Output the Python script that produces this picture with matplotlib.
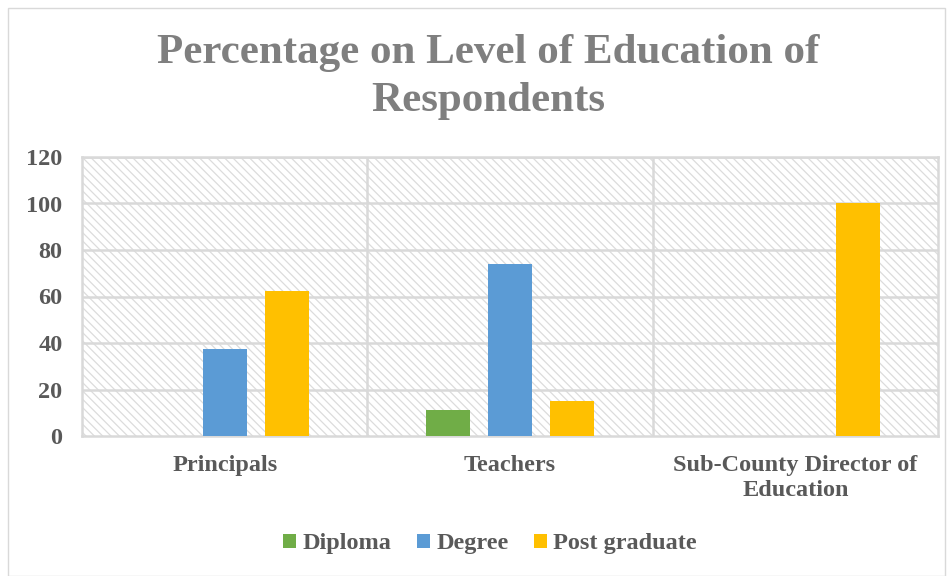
import numpy as np
import matplotlib.pyplot as plt
from matplotlib.patches import Rectangle

categories = ["Principals", "Teachers", "Sub-County Director of\nEducation"]
series = ["Diploma", "Degree", "Post graduate"]
diploma = [0, 11, 0]
degree = [37.5, 74, 0]
post_graduate = [62.5, 15, 100]
colors = ["#70ad47", "#5b9bd5", "#ffc000"]

plt.rcParams['font.family'] = ['Liberation Serif', 'DejaVu Serif']
plt.rcParams['font.weight'] = 'bold'
plt.rcParams['hatch.color'] = '#dcdcdc'
plt.rcParams['hatch.linewidth'] = 0.9

fig = plt.figure(figsize=(9.53, 5.76), dpi=100)
ax = fig.add_axes([82 / 953, 1 - 436 / 576, (938 - 82) / 953, (436 - 157) / 576])

# hatched plot background
ax.add_patch(Rectangle((0, 0), 1, 1, transform=ax.transAxes, facecolor='white',
                       edgecolor='#dcdcdc', linewidth=0, hatch='\\\\\\\\', zorder=0))

x = np.arange(len(categories))
w = 0.154
off = 0.218
for i, (vals, name) in enumerate(zip([diploma, degree, post_graduate], series)):
    ax.bar(x + (i - 1) * off, vals, width=w, color=colors[i], label=name, zorder=3)

ax.set_xlim(-0.5, 2.5)
ax.set_ylim(0, 120)
ax.set_yticks(range(0, 121, 20))
for yv in range(20, 121, 20):
    ax.axhline(yv, color='#d9d9d9', lw=1.8, zorder=1)
for xv in [0.5, 1.5]:
    ax.axvline(xv, color='#d9d9d9', lw=1.8, zorder=1)
for s in ax.spines.values():
    s.set_color('#d9d9d9')
    s.set_linewidth(1.8)

ax.set_xticks(x)
ax.set_xticklabels(categories, fontsize=17.5, color='#595959', fontweight='bold',
                   linespacing=1.25)
ax.tick_params(axis='x', length=0, pad=14)
ax.tick_params(axis='y', length=0, labelsize=17.5, labelcolor='#595959', pad=14)

fig.text(488 / 953, 1 - 77 / 576, "Percentage on Level of Education of\nRespondents",
         ha='center', va='center', fontsize=31, color='#7f7f7f', fontweight='bold',
         linespacing=1.35)

fig.legend(loc='center', bbox_to_anchor=(490 / 953, 1 - 544 / 576), ncol=3,
           frameon=False, fontsize=17.5, handlelength=0.55, handleheight=0.55,
           handletextpad=0.25, columnspacing=1.05, labelcolor='#595959')

fig.add_artist(Rectangle((8 / 953, 0), 1 - 16 / 953, 1 - 8 / 576, transform=fig.transFigure,
                         fill=False, edgecolor='#d9d9d9', lw=1))

fig.savefig("out.png", dpi=100)
